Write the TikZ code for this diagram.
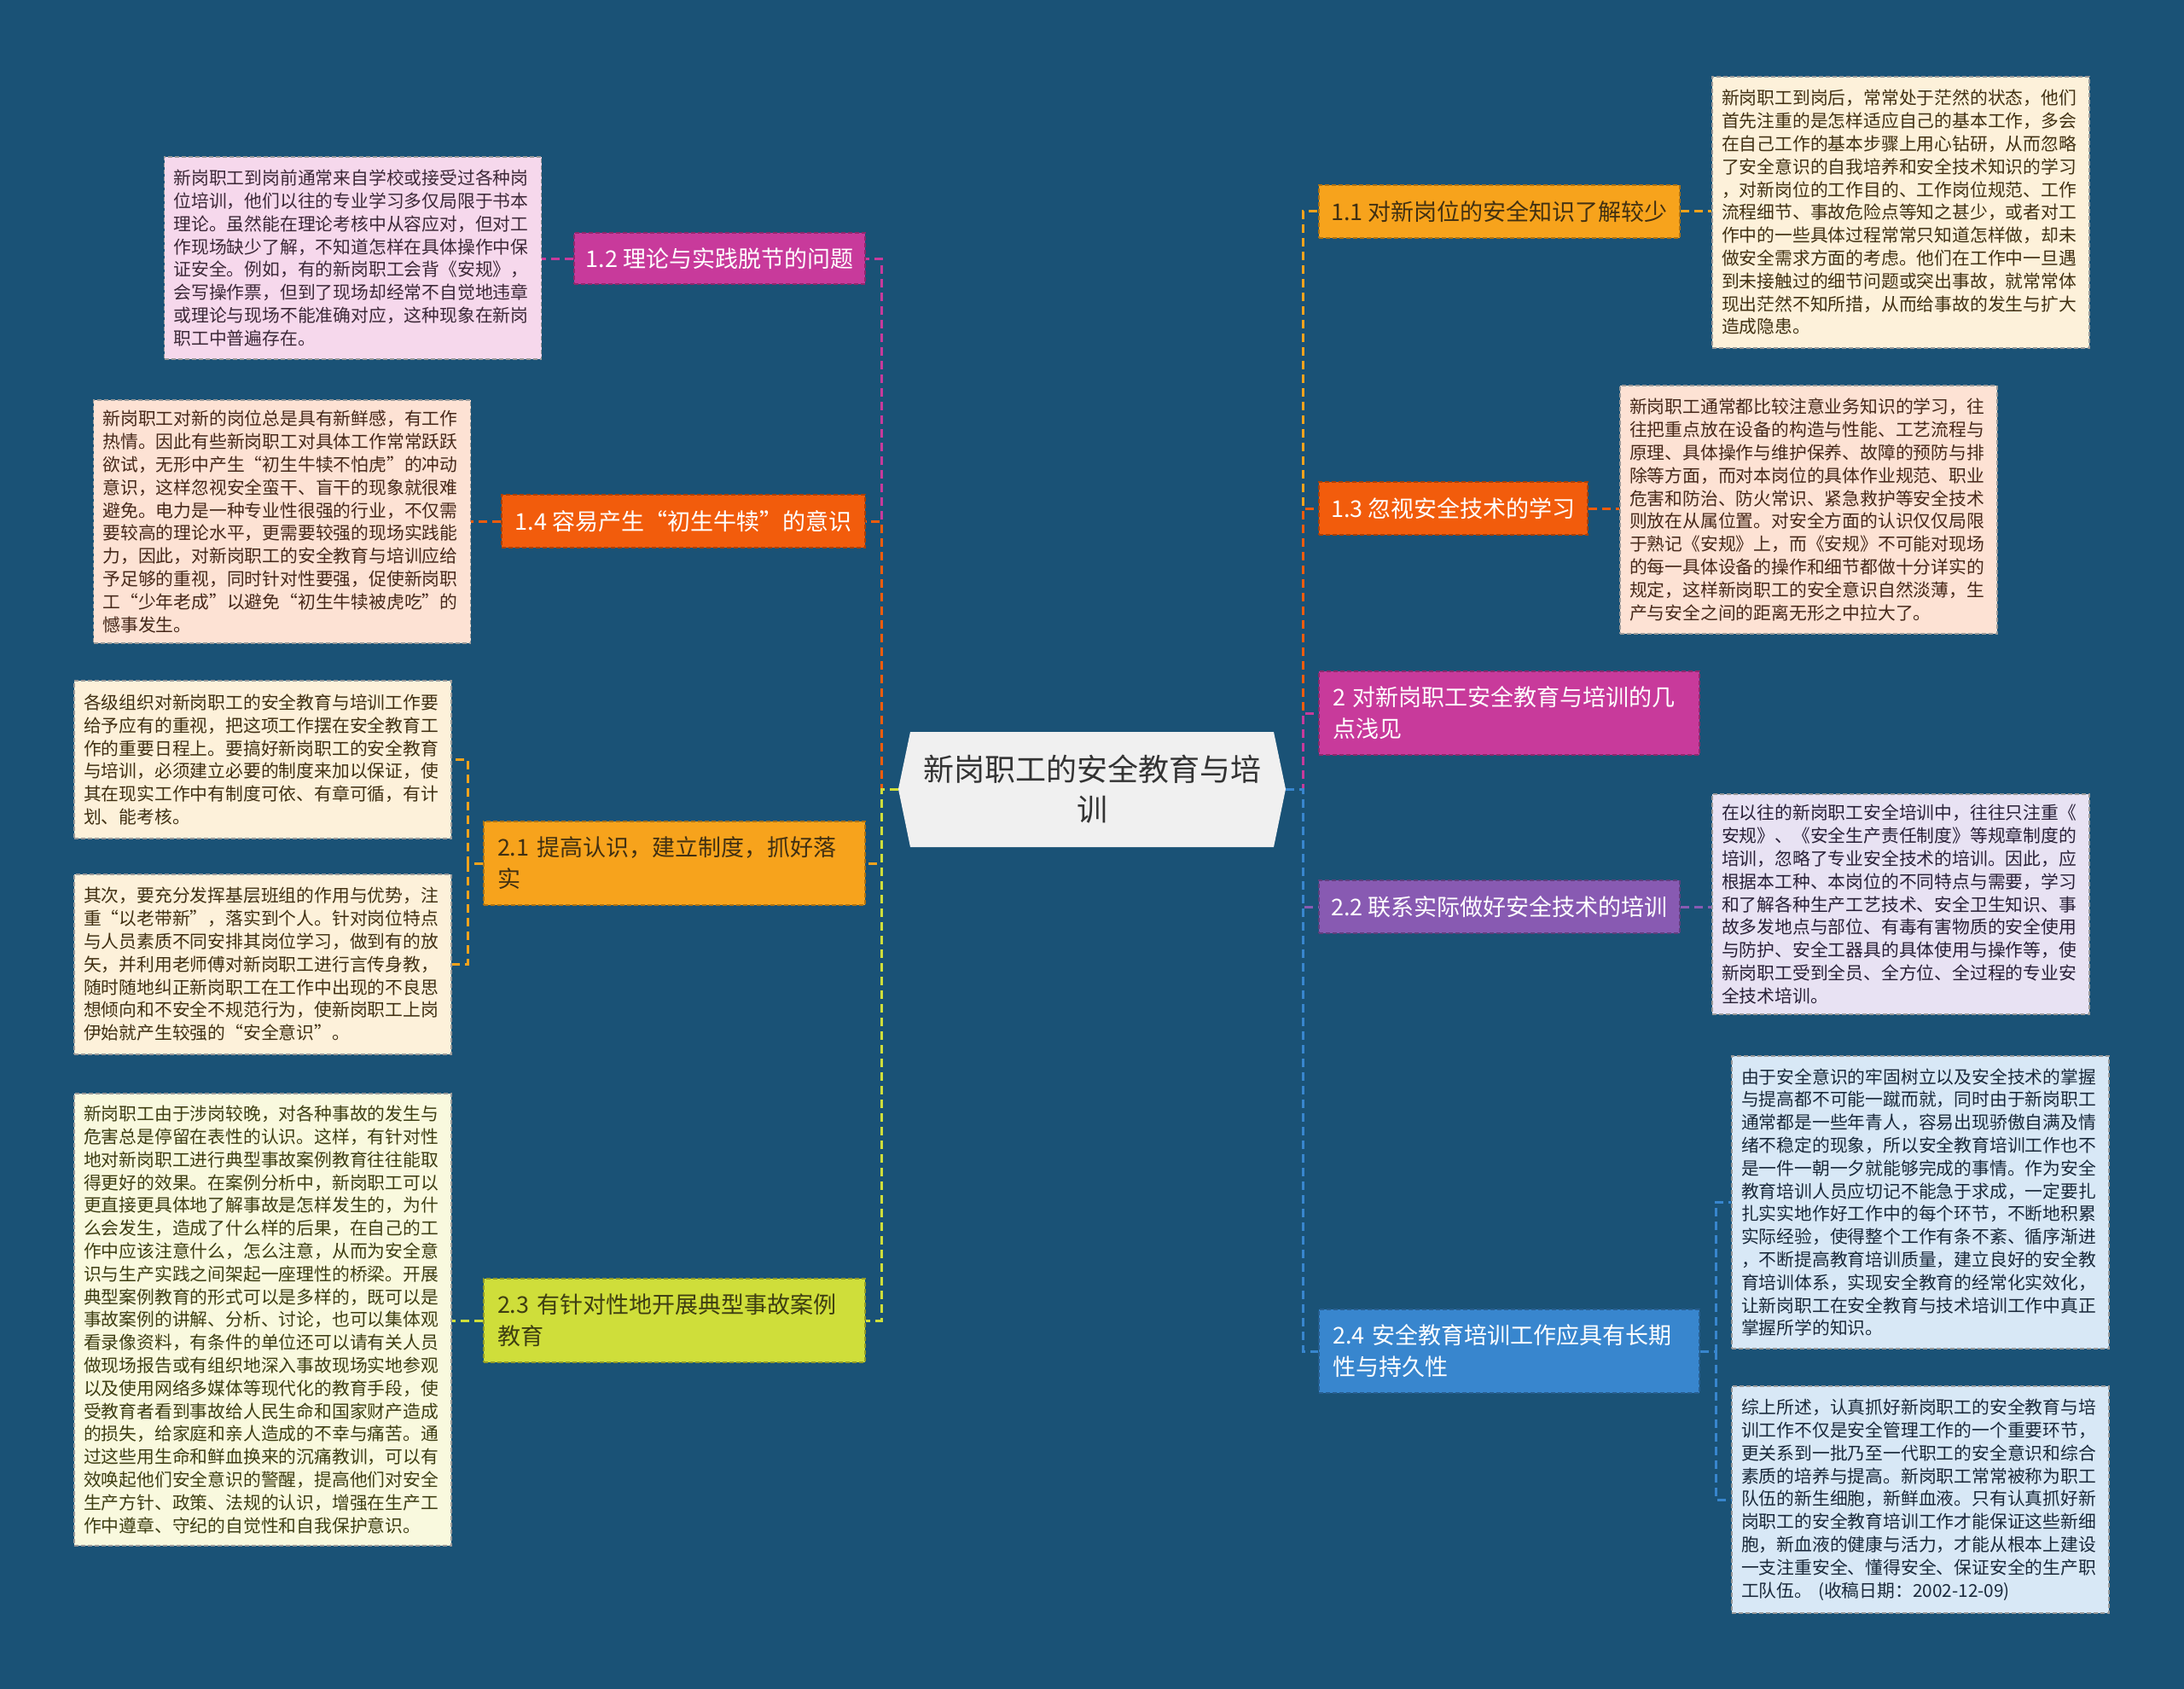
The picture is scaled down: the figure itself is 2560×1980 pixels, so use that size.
\documentclass[tikz,border=0pt]{standalone}
\usepackage{fontspec}
\setmainfont{Noto Sans CJK SC}
\definecolor{bg}{RGB}{26,82,118}
\definecolor{cMag}{RGB}{200,58,155}
\definecolor{cRed}{RGB}{242,92,12}
\definecolor{cOra}{RGB}{247,163,28}
\definecolor{cYel}{RGB}{207,222,58}
\definecolor{cPur}{RGB}{136,90,178}
\definecolor{cBlu}{RGB}{56,134,206}
\definecolor{fPink}{RGB}{246,216,236}
\definecolor{fPeach}{RGB}{253,226,212}
\definecolor{fCream}{RGB}{253,241,218}
\definecolor{fLYel}{RGB}{249,249,222}
\definecolor{fLav}{RGB}{232,226,243}
\definecolor{fLBlu}{RGB}{216,232,246}
\definecolor{tMag}{RGB}{60,40,55}
\definecolor{tRed}{RGB}{70,40,25}
\definecolor{tOra}{RGB}{65,48,18}
\definecolor{tYel}{RGB}{62,62,18}
\definecolor{tPur}{RGB}{40,32,55}
\definecolor{tBlu}{RGB}{25,40,58}
\definecolor{cFill}{RGB}{240,240,240}
\tikzset{
 bnode/.style={rectangle, inner sep=0pt, line width=1.3pt, dash pattern=on 5pt off 3pt, font=\fontsize{27}{37}\selectfont},
 bone/.style={bnode, align=center},
 btwo/.style={bnode, align=left, inner xsep=16pt},
 leafbox/.style={rectangle, inner xsep=11pt, inner ysep=0pt, text width=420pt, align=left, minimum width=442pt, line width=1.2pt, dash pattern=on 5pt off 3pt, draw=black!40, font=\fontsize{20.8}{26.8}\selectfont},
 conn/.style={line width=3pt, dash pattern=on 10pt off 6pt},
 centre/.style={rectangle, inner sep=0pt, minimum width=454pt, minimum height=135pt, align=center, text=black!80, font=\fontsize{36}{47}\selectfont},
}
\begin{document}
\begin{tikzpicture}[x=1pt,y=-1pt]
\useasboundingbox (0,0) rectangle (2560,1980);
\fill[bg] (0,0) rectangle (2560,1980);

% centre
\fill[cFill] (1053,925) -- (1067,858) -- (1493,858) -- (1507,925) -- (1493,993) -- (1067,993) -- cycle;
\node[centre] (c) at (1280,925) {新岗职工的安全教育与培\\训};

% branch nodes left
\node[bone, fill=cMag, draw=cMag!70!black, text=white, minimum width=341pt, minimum height=60pt] (b12) at (843.5,303) {1.2 理论与实践脱节的问题};
\node[bone, fill=cRed, draw=cRed!70!black, text=white, minimum width=426pt, minimum height=62pt] (b14) at (801,611) {1.4 容易产生“初生牛犊”的意识};
\node[btwo, fill=cOra, draw=cOra!70!black, text=tOra, text width=415pt, minimum height=98pt] (b21) at (790.5,1012) {2.1 提高认识，建立制度，抓好落\\实};
\node[btwo, fill=cYel, draw=cYel!70!black, text=tYel, text width=415pt, minimum height=98pt] (b23) at (790.5,1548) {2.3 有针对性地开展典型事故案例\\教育};

% branch nodes right
\node[bone, fill=cOra, draw=cOra!70!black, text=tOra, minimum width=423pt, minimum height=62pt] (b11) at (1757.5,248) {1.1 对新岗位的安全知识了解较少};
\node[bone, fill=cRed, draw=cRed!70!black, text=white, minimum width=315pt, minimum height=62pt] (b13) at (1703.5,596) {1.3 忽视安全技术的学习};
\node[btwo, fill=cMag, draw=cMag!70!black, text=white, text width=414pt, minimum height=98pt] (b2) at (1769,836) {2 对新岗职工安全教育与培训的几\\点浅见};
\node[bone, fill=cPur, draw=cPur!70!black, text=white, minimum width=423pt, minimum height=62pt] (b22) at (1757.5,1063) {2.2 联系实际做好安全技术的培训};
\node[btwo, fill=cBlu, draw=cBlu!70!black, text=white, text width=414pt, minimum height=98pt] (b24) at (1769,1584) {2.4 安全教育培训工作应具有长期\\性与持久性};

% leaves left
\node[leafbox, fill=fPink, text=tMag, minimum height=237pt] (l12) at (413.5,302.5) {新岗职工到岗前通常来自学校或接受过各种岗\\位培训，他们以往的专业学习多仅局限于书本\\理论。虽然能在理论考核中从容应对，但对工\\作现场缺少了解，不知道怎样在具体操作中保\\证安全。例如，有的新岗职工会背《安规》，\\会写操作票，但到了现场却经常不自觉地违章\\或理论与现场不能准确对应，这种现象在新岗\\职工中普遍存在。};
\node[leafbox, fill=fPeach, text=tRed, minimum height=285pt] (l14) at (330.5,611.5) {新岗职工对新的岗位总是具有新鲜感，有工作\\热情。因此有些新岗职工对具体工作常常跃跃\\欲试，无形中产生“初生牛犊不怕虎”的冲动\\意识，这样忽视安全蛮干、盲干的现象就很难\\避免。电力是一种专业性很强的行业，不仅需\\要较高的理论水平，更需要较强的现场实践能\\力，因此，对新岗职工的安全教育与培训应给\\予足够的重视，同时针对性要强，促使新岗职\\工“少年老成”以避免“初生牛犊被虎吃”的\\憾事发生。};
\node[leafbox, fill=fCream, text=tOra, minimum height=185pt] (l21a) at (308,890.5) {各级组织对新岗职工的安全教育与培训工作要\\给予应有的重视，把这项工作摆在安全教育工\\作的重要日程上。要搞好新岗职工的安全教育\\与培训，必须建立必要的制度来加以保证，使\\其在现实工作中有制度可依、有章可循，有计\\划、能考核。};
\node[leafbox, fill=fCream, text=tOra, minimum height=211pt] (l21b) at (308,1130.5) {其次，要充分发挥基层班组的作用与优势，注\\重“以老带新”，落实到个人。针对岗位特点\\与人员素质不同安排其岗位学习，做到有的放\\矢，并利用老师傅对新岗职工进行言传身教，\\随时随地纠正新岗职工在工作中出现的不良思\\想倾向和不安全不规范行为，使新岗职工上岗\\伊始就产生较强的“安全意识”。};
\node[leafbox, fill=fLYel, text=tYel, minimum height=530pt] (l23) at (308,1547) {新岗职工由于涉岗较晚，对各种事故的发生与\\危害总是停留在表性的认识。这样，有针对性\\地对新岗职工进行典型事故案例教育往往能取\\得更好的效果。在案例分析中，新岗职工可以\\更直接更具体地了解事故是怎样发生的，为什\\么会发生，造成了什么样的后果，在自己的工\\作中应该注意什么，怎么注意，从而为安全意\\识与生产实践之间架起一座理性的桥梁。开展\\典型案例教育的形式可以是多样的，既可以是\\事故案例的讲解、分析、讨论，也可以集体观\\看录像资料，有条件的单位还可以请有关人员\\做现场报告或有组织地深入事故现场实地参观\\以及使用网络多媒体等现代化的教育手段，使\\受教育者看到事故给人民生命和国家财产造成\\的损失，给家庭和亲人造成的不幸与痛苦。通\\过这些用生命和鲜血换来的沉痛教训，可以有\\效唤起他们安全意识的警醒，提高他们对安全\\生产方针、政策、法规的认识，增强在生产工\\作中遵章、守纪的自觉性和自我保护意识。};

% leaves right
\node[leafbox, fill=fCream, text=tOra, minimum height=318pt] (r11) at (2228,249) {新岗职工到岗后，常常处于茫然的状态，他们\\首先注重的是怎样适应自己的基本工作，多会\\在自己工作的基本步骤上用心钻研，从而忽略\\了安全意识的自我培养和安全技术知识的学习\\，对新岗位的工作目的、工作岗位规范、工作\\流程细节、事故危险点等知之甚少，或者对工\\作中的一些具体过程常常只知道怎样做，却未\\做安全需求方面的考虑。他们在工作中一旦遇\\到未接触过的细节问题或突出事故，就常常体\\现出茫然不知所措，从而给事故的发生与扩大\\造成隐患。};
\node[leafbox, fill=fPeach, text=tRed, minimum height=291pt] (r13) at (2120,597.5) {新岗职工通常都比较注意业务知识的学习，往\\往把重点放在设备的构造与性能、工艺流程与\\原理、具体操作与维护保养、故障的预防与排\\除等方面，而对本岗位的具体作业规范、职业\\危害和防治、防火常识、紧急救护等安全技术\\则放在从属位置。对安全方面的认识仅仅局限\\于熟记《安规》上，而《安规》不可能对现场\\的每一具体设备的操作和细节都做十分详实的\\规定，这样新岗职工的安全意识自然淡薄，生\\产与安全之间的距离无形之中拉大了。};
\node[leafbox, fill=fLav, text=tPur, minimum height=258pt] (r22) at (2228,1060) {在以往的新岗职工安全培训中，往往只注重《\\安规》、《安全生产责任制度》等规章制度的\\培训，忽略了专业安全技术的培训。因此，应\\根据本工种、本岗位的不同特点与需要，学习\\和了解各种生产工艺技术、安全卫生知识、事\\故多发地点与部位、有毒有害物质的安全使用\\与防护、安全工器具的具体使用与操作等，使\\新岗职工受到全员、全方位、全过程的专业安\\全技术培训。};
\node[leafbox, fill=fLBlu, text=tBlu, minimum height=343pt] (r24a) at (2251,1409.5) {由于安全意识的牢固树立以及安全技术的掌握\\与提高都不可能一蹴而就，同时由于新岗职工\\通常都是一些年青人，容易出现骄傲自满及情\\绪不稳定的现象，所以安全教育培训工作也不\\是一件一朝一夕就能够完成的事情。作为安全\\教育培训人员应切记不能急于求成，一定要扎\\扎实实地作好工作中的每个环节，不断地积累\\实际经验，使得整个工作有条不紊、循序渐进\\，不断提高教育培训质量，建立良好的安全教\\育培训体系，实现安全教育的经常化实效化，\\让新岗职工在安全教育与技术培训工作中真正\\掌握所学的知识。};
\node[leafbox, fill=fLBlu, text=tBlu, minimum height=266pt] (r24b) at (2251,1758) {综上所述，认真抓好新岗职工的安全教育与培\\训工作不仅是安全管理工作的一个重要环节，\\更关系到一批乃至一代职工的安全意识和综合\\素质的培养与提高。新岗职工常常被称为职工\\队伍的新生细胞，新鲜血液。只有认真抓好新\\岗职工的安全教育培训工作才能保证这些新细\\胞，新血液的健康与活力，才能从根本上建设\\一支注重安全、懂得安全、保证安全的生产职\\工队伍。 (收稿日期：2002-12-09)};

% trunk points
\coordinate (lt) at (1033,925);
\coordinate (rt) at (1527,925);
\coordinate (t21) at (548,1012);
\coordinate (t24) at (2011,1584);

% connectors left
\draw[conn, cMag] (c.west) -- (lt) |- (b12.east);
\draw[conn, cRed] (c.west) -- (lt) |- (b14.east);
\draw[conn, cOra] (c.west) -- (lt) |- (b21.east);
\draw[conn, cYel] (c.west) -- (lt) |- (b23.east);
% connectors right
\draw[conn, cOra] (c.east) -- (rt) |- (b11.west);
\draw[conn, cRed] (c.east) -- (rt) |- (b13.west);
\draw[conn, cMag] (c.east) -- (rt) |- (b2.west);
\draw[conn, cPur] (c.east) -- (rt) |- (b22.west);
\draw[conn, cBlu] (c.east) -- (rt) |- (b24.west);

% leaf connectors
\draw[conn, cMag] (b12.west) -- (b12.west -| l12.east);
\draw[conn, cRed] (b14.west) -- (b14.west -| l14.east);
\draw[conn, cOra] (b21.west) -- (t21) |- (l21a.east);
\draw[conn, cOra] (t21) |- (l21b.east);
\draw[conn, cYel] (b23.west) -- (b23.west -| l23.east);
\draw[conn, cOra] (b11.east) -- (b11.east -| r11.west);
\draw[conn, cRed] (b13.east) -- (b13.east -| r13.west);
\draw[conn, cPur] (b22.east) -- (b22.east -| r22.west);
\draw[conn, cBlu] (b24.east) -- (t24) |- (r24a.west);
\draw[conn, cBlu] (t24) |- (r24b.west);
\end{tikzpicture}
\end{document}
